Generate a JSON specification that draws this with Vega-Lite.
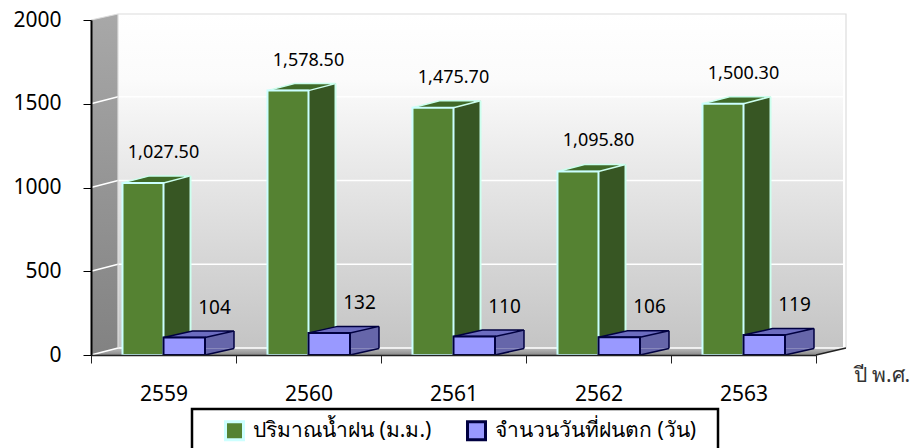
{
"$schema":"https://vega.github.io/schema/vega-lite/v6.json",
"width":725,"height":335,
"autosize":{"type":"none"},
"padding":{"left":91,"top":20,"right":97,"bottom":93},
"background":"white",
"config":{"view":{"stroke":null},"font":"Noto Sans"},
"datasets":{"anchor":[{"year":"2559","base":0}]},
"data":{"values":[
{"year":"2559","series":"ปริมาณน้ำฝน (ม.ม.)","value":1027.5,"base":0},
{"year":"2560","series":"ปริมาณน้ำฝน (ม.ม.)","value":1578.5,"base":0},
{"year":"2561","series":"ปริมาณน้ำฝน (ม.ม.)","value":1475.7,"base":0},
{"year":"2562","series":"ปริมาณน้ำฝน (ม.ม.)","value":1095.8,"base":0},
{"year":"2563","series":"ปริมาณน้ำฝน (ม.ม.)","value":1500.3,"base":0},
{"year":"2559","series":"จำนวนวันที่ฝนตก (วัน)","value":104,"base":0},
{"year":"2560","series":"จำนวนวันที่ฝนตก (วัน)","value":132,"base":0},
{"year":"2561","series":"จำนวนวันที่ฝนตก (วัน)","value":110,"base":0},
{"year":"2562","series":"จำนวนวันที่ฝนตก (วัน)","value":106,"base":0},
{"year":"2563","series":"จำนวนวันที่ฝนตก (วัน)","value":119,"base":0}
]},
"encoding":{
"x":{"field":"year","type":"nominal","scale":{"paddingInner":0,"paddingOuter":0},"axis":{"title":"ปี พ.ศ.","titleX":762,"titleY":9,"titleAlign":"left","titleAnchor":"start","titleFontSize":21,"titleFontWeight":"normal","titleColor":"#333333","labelAngle":0,"labelFontSize":21,"labelColor":"black","labelPadding":20,"tickBand":"extent","tickSize":8,"tickColor":"#222222","domainColor":"#222222","domainWidth":1.5,"zindex":1}},
"y":{"field":"value","type":"quantitative","scale":{"domain":[0,2000],"nice":false},"axis":{"title":null,"format":"d","values":[0,500,1000,1500,2000],"grid":false,"labelFontSize":21,"labelColor":"black","labelPadding":22,"tickSize":8,"tickColor":"black","domainColor":"black","domainWidth":2,"zindex":1}}
},
"layer":[
{"transform":[{"filter":"datum.series==='ปริมาณน้ำฝน (ม.ม.)'"}],"mark":{"type":"rect","xOffset":27,"x2Offset":27,"yOffset":-7,"y2Offset":-7,"fill":{"gradient":"linear","x1":0,"y1":0,"x2":0,"y2":1,"stops":[{"offset":0,"color":"#ffffff"},{"offset":0.2,"color":"#fbfbfb"},{"offset":0.5,"color":"#e6e6e6"},{"offset":1,"color":"#c4c4c4"}]}},"encoding":{"y":{"datum":0},"y2":{"datum":2000}}},
{"data":{"name":"anchor"},"mark":{"type":"point","filled":true,"size":4,"opacity":1,"shape":"M-72.5 0L-45.5 -7L-45.5 -341L-72.5 -335Z","fill":{"gradient":"linear","x1":0,"y1":0,"x2":0,"y2":1,"stops":[{"offset":0,"color":"#a8a8a8"},{"offset":1,"color":"#828282"}]}},"encoding":{"y":{"field":"base","type":"quantitative"}}},
{"data":{"name":"anchor"},"mark":{"type":"point","filled":true,"size":4,"opacity":1,"shape":"M-72.5 0L-45.5 -7L682.5 -7L652.5 0Z","fill":{"gradient":"linear","x1":0,"y1":0,"x2":0,"y2":1,"stops":[{"offset":0,"color":"#bdbdbd"},{"offset":1,"color":"#8a8a8a"}]}},"encoding":{"y":{"field":"base","type":"quantitative"}}},
{"data":{"values":[{"year":"2559","grid":500},{"year":"2559","grid":1000},{"year":"2559","grid":1500},{"year":"2559","grid":0}]},"mark":{"type":"point","filled":false,"size":4,"opacity":1,"shape":"M-72.5 0L-45.5 -7L682.5 -7","stroke":"white","strokeWidth":1.5},"encoding":{"y":{"field":"grid","type":"quantitative"}}},
{"data":{"name":"anchor"},"mark":{"type":"point","filled":false,"size":4,"opacity":1,"shape":"M-72.5 -335L-45.5 -341L682.5 -341L682.5 -7M-45.5 -7L-45.5 -341","stroke":"#dcdcdc","strokeWidth":1.2},"encoding":{"y":{"field":"base","type":"quantitative"}}},
{"data":{"name":"anchor"},"mark":{"type":"point","filled":false,"size":4,"opacity":1,"shape":"M652.5 0L682.5 -7","stroke":"#222222","strokeWidth":1.5},"encoding":{"y":{"field":"base","type":"quantitative"}}},
{"data":{"name":"anchor"},"mark":{"type":"point","filled":false,"size":4,"opacity":1,"shape":"M28.5 54L554.5 54L554.5 100L28.5 100Z","stroke":"black","strokeWidth":2.5},"encoding":{"y":{"field":"base","type":"quantitative"}}},
{"transform":[{"filter":"datum.series==='ปริมาณน้ำฝน (ม.ม.)'"}],"mark":{"type":"bar","width":27,"xOffset":13.5,"yOffset":-7,"y2Offset":-7,"fill":"#375623"},"encoding":{"y":{"field":"value","type":"quantitative"},"y2":{"datum":0}}},
{"transform":[{"filter":"datum.series==='ปริมาณน้ำฝน (ม.ม.)'"}],"mark":{"type":"rule","xOffset":27,"x2Offset":27,"yOffset":-7,"y2Offset":-7,"stroke":"#ccffee","strokeWidth":2},"encoding":{"y":{"field":"value","type":"quantitative"},"y2":{"datum":0}}},
{"transform":[{"filter":"datum.series==='ปริมาณน้ำฝน (ม.ม.)'"}],"mark":{"type":"point","filled":true,"size":4,"opacity":1,"shape":"M-41 0L-14 -7L27 -7L0 0Z","fill":"#3f6a28","stroke":"#ccffee","strokeWidth":1.5}},
{"transform":[{"filter":"datum.series==='ปริมาณน้ำฝน (ม.ม.)'"}],"mark":{"type":"bar","width":41,"xOffset":-20.5,"strokeWidth":2},"encoding":{"fill":{"field":"series","type":"nominal","scale":{"domain":["ปริมาณน้ำฝน (ม.ม.)","จำนวนวันที่ฝนตก (วัน)"],"range":["#558232","#9999ff"]},"legend":{"title":null,"orient":"none","legendX":133,"legendY":400,"direction":"horizontal","columns":2,"padding":0,"symbolType":"square","symbolSize":324,"symbolStrokeWidth":3,"labelFontSize":21,"labelFontWeight":"normal","labelColor":"black","labelLimit":320,"labelOffset":8,"columnPadding":29}},"stroke":{"field":"series","type":"nominal","scale":{"domain":["ปริมาณน้ำฝน (ม.ม.)","จำนวนวันที่ฝนตก (วัน)"],"range":["#ccffff","#000040"]},"legend":{"title":null,"orient":"none","legendX":133,"legendY":400,"direction":"horizontal","columns":2,"padding":0,"symbolType":"square","symbolSize":324,"symbolStrokeWidth":3,"labelFontSize":21,"labelFontWeight":"normal","labelColor":"black","labelLimit":320,"labelOffset":8,"columnPadding":29}}}},
{"transform":[{"filter":"datum.series==='จำนวนวันที่ฝนตก (วัน)'"}],"mark":{"type":"bar","width":29,"xOffset":56,"yOffset":-6.5,"y2Offset":-6.5,"fill":"#6666aa"},"encoding":{"y":{"field":"value","type":"quantitative"},"y2":{"datum":0}}},
{"transform":[{"filter":"datum.series==='จำนวนวันที่ฝนตก (วัน)'"}],"mark":{"type":"point","filled":true,"size":4,"opacity":1,"shape":"M41.5 -6.5L41.5 0L70.5 -6.5","fill":"#6666aa","stroke":"#000040","strokeWidth":1.5},"encoding":{"y":{"field":"base","type":"quantitative"}}},
{"transform":[{"filter":"datum.series==='จำนวนวันที่ฝนตก (วัน)'"}],"mark":{"type":"rule","xOffset":70.5,"x2Offset":70.5,"yOffset":-6.5,"y2Offset":-6.5,"stroke":"#000040","strokeWidth":1.5},"encoding":{"y":{"field":"value","type":"quantitative"},"y2":{"datum":0}}},
{"transform":[{"filter":"datum.series==='จำนวนวันที่ฝนตก (วัน)'"}],"mark":{"type":"point","filled":true,"size":4,"opacity":1,"shape":"M0 0L29 -6.5L70.5 -6.5L41.5 0Z","fill":"#6c6cc0","stroke":"#000040","strokeWidth":1.5}},
{"transform":[{"filter":"datum.series==='จำนวนวันที่ฝนตก (วัน)'"}],"mark":{"type":"bar","width":41.5,"xOffset":20.75,"strokeWidth":2},"encoding":{"fill":{"field":"series","type":"nominal"},"stroke":{"field":"series","type":"nominal"}}},
{"transform":[{"filter":"datum.series==='ปริมาณน้ำฝน (ม.ม.)'"}],"mark":{"type":"text","dy":-21,"baseline":"bottom","fontSize":18,"color":"black"},"encoding":{"text":{"field":"value","type":"quantitative","format":",.2f"}}},
{"transform":[{"filter":"datum.series==='จำนวนวันที่ฝนตก (วัน)'"}],"mark":{"type":"text","dx":51,"dy":-20,"baseline":"bottom","fontSize":19,"color":"black"},"encoding":{"text":{"field":"value","type":"quantitative","format":"d"}}}
]
}
